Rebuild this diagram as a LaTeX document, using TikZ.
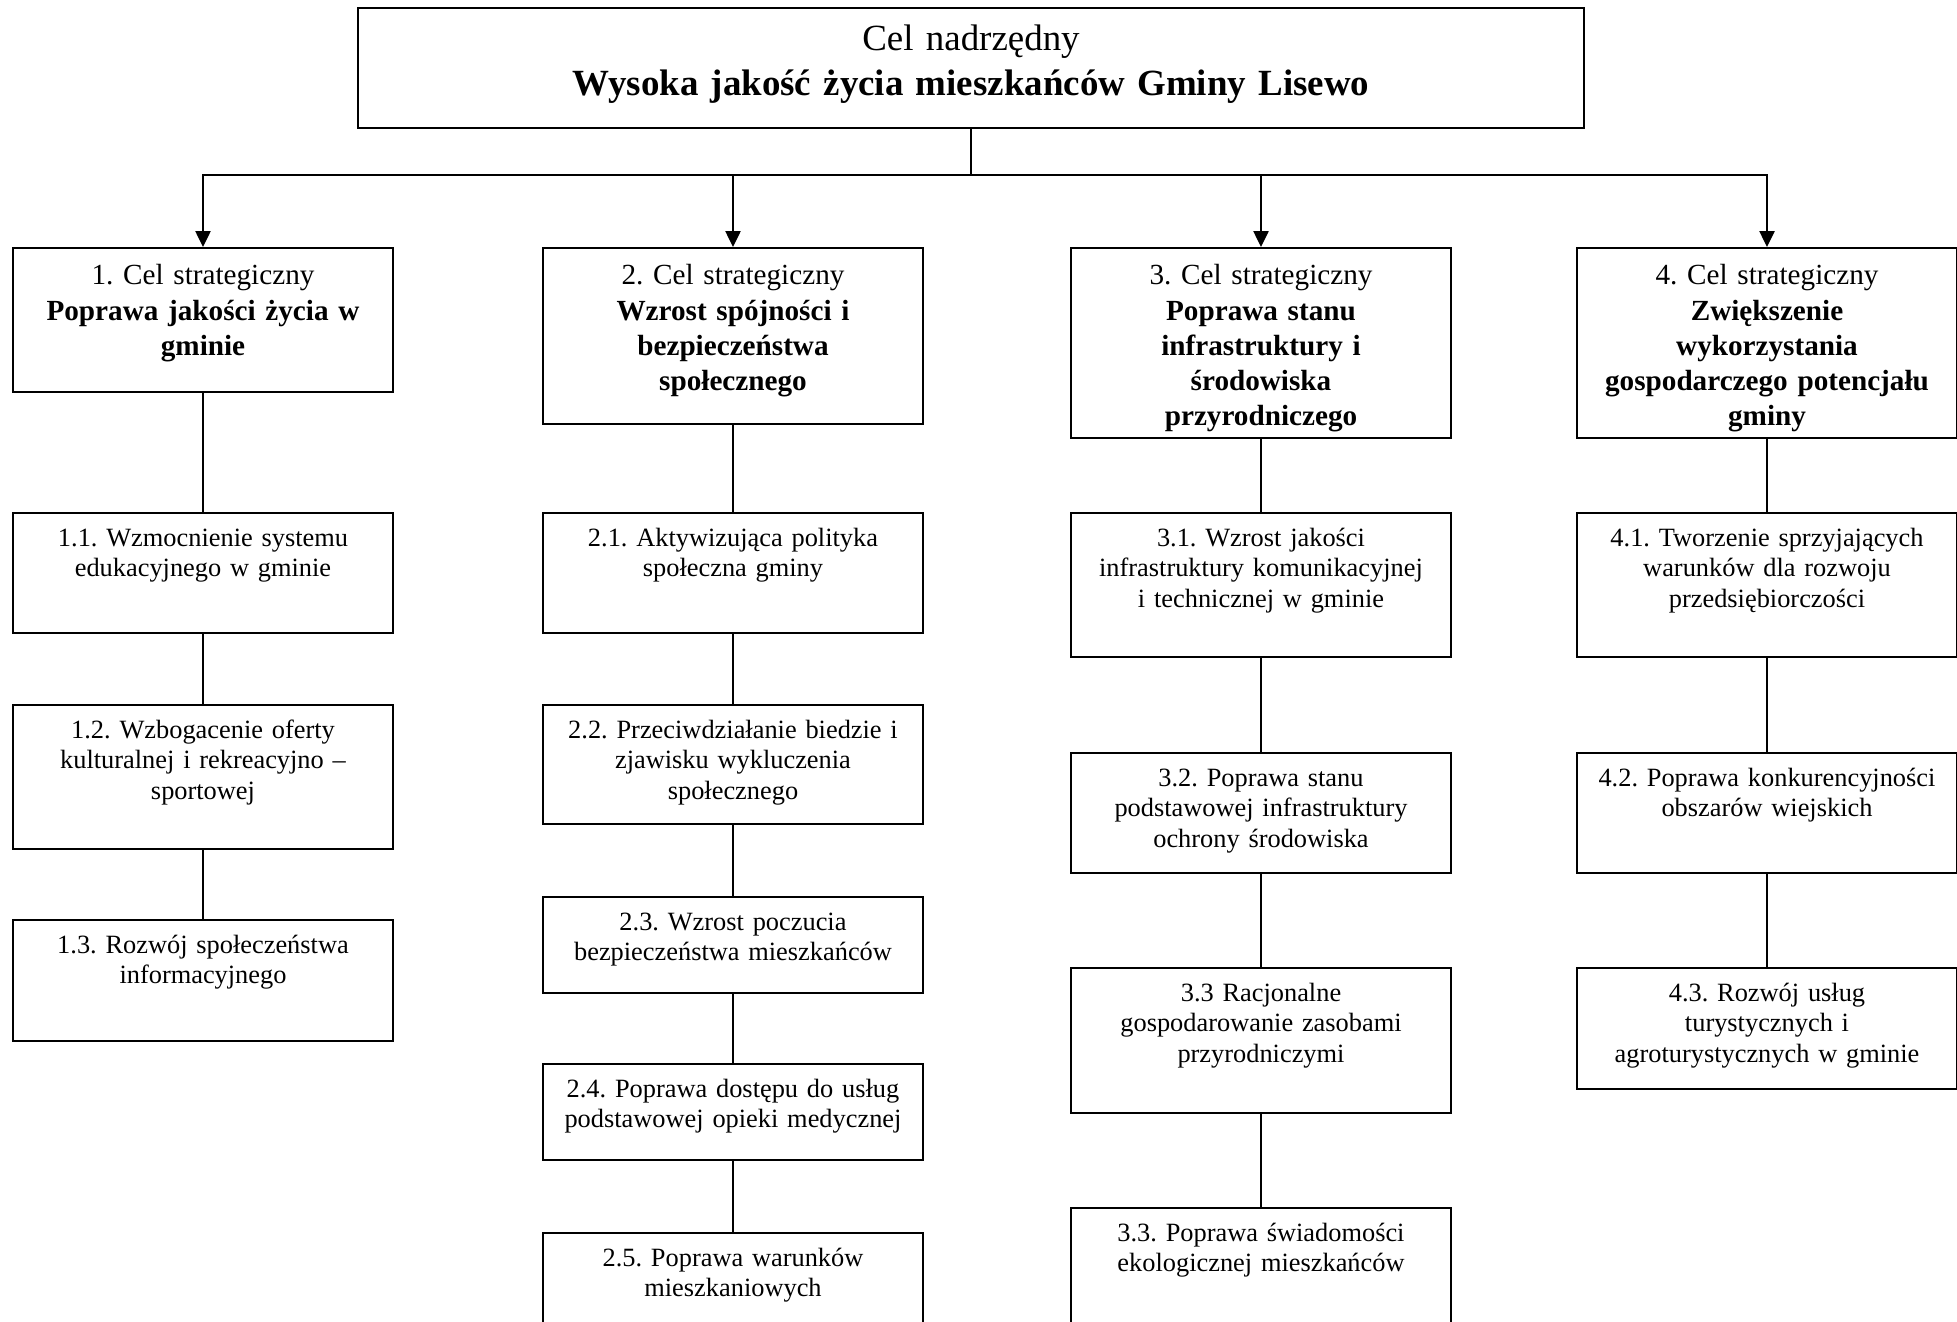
\documentclass[tikz,border=0pt]{standalone}
\usepackage{fontspec}
\setmainfont{Liberation Serif}
\frenchspacing
\usetikzlibrary{arrows.meta}

\tikzset{
  frame/.style={draw, line width=0.6pt, inner sep=0pt, anchor=north, align=center},
  main/.style={frame, text width=12.26cm, text height=12.2pt, text depth=1.20cm-12.2pt,
    font=\fontsize{10.5}{12.6}\selectfont},
  aim/.style={frame, text width=3.79cm, text height=10.5pt, text depth=#1-10.5pt,
    font=\fontsize{8.3}{10}\selectfont},
  task/.style={frame, text width=3.79cm, text height=9.4pt, text depth=#1-9.4pt,
    font=\fontsize{7.5}{8.7}\selectfont},
  link/.style={line width=0.45pt},
  arrow/.style={link, -{Triangle[length=4.5pt, width=4.3pt]}},
}

\begin{document}
\begin{tikzpicture}[x=0.01cm, y=-0.01cm]
  \clip (0,0) rectangle (1957,1322);

  % cel nadrzedny
  \node[main] (top) at (971,7) {Cel nadrzędny\\ \textbf{Wysoka jakość życia mieszkańców Gminy Lisewo}};

  % cele strategiczne
  \node[aim=1.44cm] (c1) at (203,247) {1. Cel strategiczny\\ \textbf{Poprawa jakości życia w\\ gminie}};
  \node[aim=1.76cm] (c2) at (733,247) {2. Cel strategiczny\\ \textbf{Wzrost spójności i\\ bezpieczeństwa\\ społecznego}};
  \node[aim=1.90cm] (c3) at (1261,247) {3. Cel strategiczny\\ \textbf{Poprawa stanu\\ infrastruktury i\\ środowiska\\ przyrodniczego}};
  \node[aim=1.90cm] (c4) at (1767,247) {4. Cel strategiczny\\ \textbf{Zwiększenie\\ wykorzystania\\ gospodarczego potencjału\\ gminy}};

  % cele operacyjne 1
  \node[task=1.20cm] (t11) at (203,512) {1.1. Wzmocnienie systemu\\ edukacyjnego w gminie};
  \node[task=1.44cm] (t12) at (203,704) {1.2. Wzbogacenie oferty\\ kulturalnej i rekreacyjno --\\ sportowej};
  \node[task=1.21cm] (t13) at (203,919) {1.3. Rozwój społeczeństwa\\ informacyjnego};

  % cele operacyjne 2
  \node[task=1.20cm] (t21) at (733,512) {2.1. Aktywizująca polityka\\ społeczna gminy};
  \node[task=1.19cm] (t22) at (733,704) {2.2. Przeciwdziałanie biedzie i\\ zjawisku wykluczenia\\ społecznego};
  \node[task=0.96cm] (t23) at (733,896) {2.3. Wzrost poczucia\\ bezpieczeństwa mieszkańców};
  \node[task=0.96cm] (t24) at (733,1063) {2.4. Poprawa dostępu do usług\\ podstawowej opieki medycznej};
  \node[task=1.50cm] (t25) at (733,1232) {2.5. Poprawa warunków\\ mieszkaniowych};

  % cele operacyjne 3
  \node[task=1.44cm] (t31) at (1261,512) {3.1. Wzrost jakości\\ infrastruktury komunikacyjnej\\ i technicznej w gminie};
  \node[task=1.20cm] (t32) at (1261,752) {3.2. Poprawa stanu\\ podstawowej infrastruktury\\ ochrony środowiska};
  \node[task=1.45cm] (t33) at (1261,967) {3.3 Racjonalne\\ gospodarowanie zasobami\\ przyrodniczymi};
  \node[task=1.50cm] (t34) at (1261,1207) {3.3. Poprawa świadomości\\ ekologicznej mieszkańców};

  % cele operacyjne 4
  \node[task=1.44cm] (t41) at (1767,512) {4.1. Tworzenie sprzyjających\\ warunków dla rozwoju\\ przedsiębiorczości};
  \node[task=1.20cm] (t42) at (1767,752) {4.2. Poprawa konkurencyjności\\ obszarów wiejskich};
  \node[task=1.21cm] (t43) at (1767,967) {4.3. Rozwój usług\\ turystycznych i\\ agroturystycznych w gminie};

  % polaczenia
  \coordinate (bus) at (971,175);
  \draw[link] (top.south) -- (bus);
  \foreach \c in {c1,c2,c3,c4}
    \draw[arrow] (bus) -| (\c);
  \draw[link] (c1) -- (t11) -- (t12) -- (t13);
  \draw[link] (c2) -- (t21) -- (t22) -- (t23) -- (t24) -- (t25);
  \draw[link] (c3) -- (t31) -- (t32) -- (t33) -- (t34);
  \draw[link] (c4) -- (t41) -- (t42) -- (t43);
\end{tikzpicture}
\end{document}
